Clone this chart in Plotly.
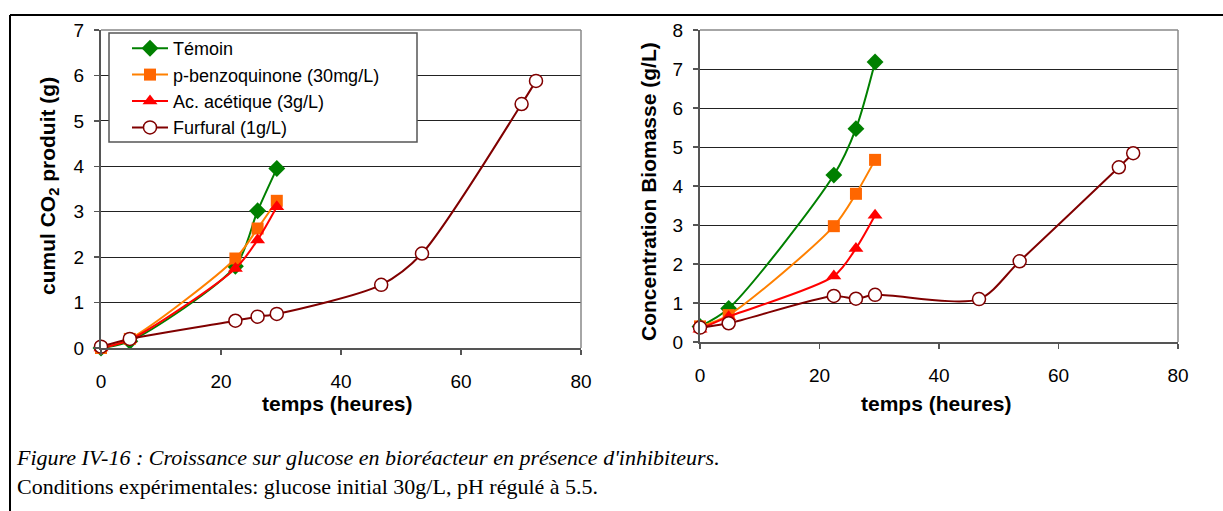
import plotly.graph_objects as go

# ---------------- data ----------------
times = [0, 4.8, 22.4, 26.1, 29.3, 46.7, 53.5, 70.1, 72.5]

series_names = ["Témoin", "p-benzoquinone (30mg/L)", "Ac. acétique (3g/L)", "Furfural (1g/L)"]

temoin_co2 = [0, 0.15, 1.8, 3.02, 3.95]
benzo_co2 = [0, 0.2, 1.97, 2.63, 3.24]
acet_co2 = [0, 0.18, 1.75, 2.38, 3.11]
furf_co2 = [0.03, 0.2, 0.6, 0.69, 0.75, 1.39, 2.08, 5.37, 5.88]

temoin_bio = [0.4, 0.86, 4.28, 5.47, 7.18]
benzo_bio = [0.4, 0.69, 2.97, 3.8, 4.67]
acet_bio = [0.33, 0.65, 1.69, 2.4, 3.25]
furf_bio = [0.37, 0.48, 1.18, 1.11, 1.21, 1.1, 2.07, 4.48, 4.84]

x_ticks = [0, 20, 40, 60, 80]
y1_ticks = [0, 1, 2, 3, 4, 5, 6, 7]
y2_ticks = [0, 1, 2, 3, 4, 5, 6, 7, 8]

caption1 = "Figure IV-16 : Croissance sur glucose en bioréacteur en présence d'inhibiteurs."
caption2 = "Conditions expérimentales: glucose initial 30g/L, pH régulé à 5.5."

# ---------------- styles ----------------
styles = [
    dict(line=dict(color="#008000", width=2), marker=dict(symbol="diamond", size=13, color="#008000")),
    dict(line=dict(color="#FF8000", width=2), marker=dict(symbol="square", size=12, color="#FF6600")),
    dict(line=dict(color="#FF0000", width=2), marker=dict(symbol="triangle-up", size=13, color="#FF0000")),
    dict(line=dict(color="#800000", width=2),
         marker=dict(symbol="circle", size=13, color="#FFFFFF", line=dict(color="#800000", width=1.5))),
]

W, H = 1223, 511
FONT = "Liberation Sans, Arial, sans-serif"
SERIF = "Liberation Serif, Times New Roman, serif"

fig = go.Figure()

co2_sets = [temoin_co2, benzo_co2, acet_co2, furf_co2]
bio_sets = [temoin_bio, benzo_bio, acet_bio, furf_bio]

for i, (name, ys) in enumerate(zip(series_names, co2_sets)):
    fig.add_trace(go.Scatter(
        x=times[:len(ys)], y=ys, name=name, mode="lines+markers",
        line=dict(shape="spline", smoothing=0.8, **styles[i]["line"]),
        marker=styles[i]["marker"], xaxis="x", yaxis="y",
        cliponaxis=False, showlegend=True))

for i, (name, ys) in enumerate(zip(series_names, bio_sets)):
    fig.add_trace(go.Scatter(
        x=times[:len(ys)], y=ys, name=name, mode="lines+markers",
        line=dict(shape="spline", smoothing=0.8, **styles[i]["line"]),
        marker=styles[i]["marker"], xaxis="x2", yaxis="y2",
        cliponaxis=False, showlegend=False))

def px_x(p):
    return p / W

def px_y(p):
    return (H - p) / H

axis_common = dict(
    showline=True, linecolor="#555555", linewidth=2,
    ticks="outside", ticklen=5, tickcolor="#555555", tickwidth=1.5,
    tickfont=dict(family=FONT, size=19, color="#000000"),
    zeroline=False, fixedrange=True, automargin=False,
)

fig.update_layout(
    width=W, height=H,
    margin=dict(l=0, r=0, t=0, b=0, pad=0, autoexpand=False),
    paper_bgcolor="white", plot_bgcolor="white",
    showlegend=True,
    xaxis=dict(domain=[px_x(101), px_x(581)], range=[0, 80], tickvals=x_ticks,
               showgrid=False, anchor="y", ticklabelstandoff=10, **axis_common),
    yaxis=dict(domain=[px_y(348), px_y(30)], range=[0, 7], tickvals=y1_ticks,
               showgrid=True, gridcolor="#222222", gridwidth=1, anchor="x",
               ticklabelstandoff=6, **axis_common),
    xaxis2=dict(domain=[px_x(700), px_x(1178)], range=[0, 80], tickvals=x_ticks,
                showgrid=False, anchor="y2", ticklabelstandoff=10, **axis_common),
    yaxis2=dict(domain=[px_y(342), px_y(30)], range=[0, 8], tickvals=y2_ticks,
                showgrid=True, gridcolor="#222222", gridwidth=1, anchor="x2",
                ticklabelstandoff=6, **axis_common),
    legend=dict(
        x=px_x(127), y=px_y(30), xanchor="left", yanchor="top",
        bgcolor="rgba(0,0,0,0)", borderwidth=0,
        font=dict(family=FONT, size=18, color="#000000"),
        traceorder="normal", itemwidth=36,
    ),
)

shapes = []
# plot-area frames (grey top and right borders)
for xr, yr in [("x", "y"), ("x2", "y2")]:
    shapes.append(dict(type="line", xref=f"{xr} domain", yref=f"{yr} domain",
                       x0=0, x1=1, y0=1, y1=1, line=dict(color="#888888", width=1.5)))
    shapes.append(dict(type="line", xref=f"{xr} domain", yref=f"{yr} domain",
                       x0=1, x1=1, y0=0, y1=1, line=dict(color="#888888", width=1.5)))
# legend box
shapes.append(dict(type="rect", xref="paper", yref="paper", layer="above",
                   x0=px_x(109), x1=px_x(417), y0=px_y(142), y1=px_y(33),
                   fillcolor="white", line=dict(color="#555555", width=1.5)))
# outer frame (top and left)
shapes.append(dict(type="line", xref="paper", yref="paper",
                   x0=px_x(10), x1=1, y0=px_y(15), y1=px_y(15), line=dict(color="#000000", width=2)))
shapes.append(dict(type="line", xref="paper", yref="paper",
                   x0=px_x(10), x1=px_x(10), y0=0, y1=px_y(15), line=dict(color="#000000", width=2)))
fig.update_layout(shapes=shapes)

ann = []
title_font = dict(family=FONT, size=21, color="#000000")
ann.append(dict(text="<b>temps (heures)</b>", xref="paper", yref="paper",
                x=px_x(337), y=px_y(403), xanchor="center", yanchor="middle",
                showarrow=False, font=title_font))
ann.append(dict(text="<b>temps (heures)</b>", xref="paper", yref="paper",
                x=px_x(936), y=px_y(403), xanchor="center", yanchor="middle",
                showarrow=False, font=title_font))
ann.append(dict(text="<b>cumul CO<sub>2</sub> produit (g)</b>", xref="paper", yref="paper",
                x=px_x(49), y=px_y(186), xanchor="center", yanchor="middle",
                textangle=-90, showarrow=False, font=title_font))
ann.append(dict(text="<b>Concentration Biomasse (g/L)</b>", xref="paper", yref="paper",
                x=px_x(648), y=px_y(192), xanchor="center", yanchor="middle",
                textangle=-90, showarrow=False, font=title_font))
ann.append(dict(text=f"<i>{caption1}</i><br>{caption2}", xref="paper", yref="paper",
                x=px_x(14), y=px_y(472), xanchor="left", yanchor="middle", align="left",
                showarrow=False, font=dict(family=SERIF, size=22, color="#000000")))
fig.update_layout(annotations=ann)

fig.write_html(
    "out.html",
    config={"displayModeBar": False, "staticPlot": True},
    post_script="document.body.style.margin='0';document.body.style.padding='0';",
)
